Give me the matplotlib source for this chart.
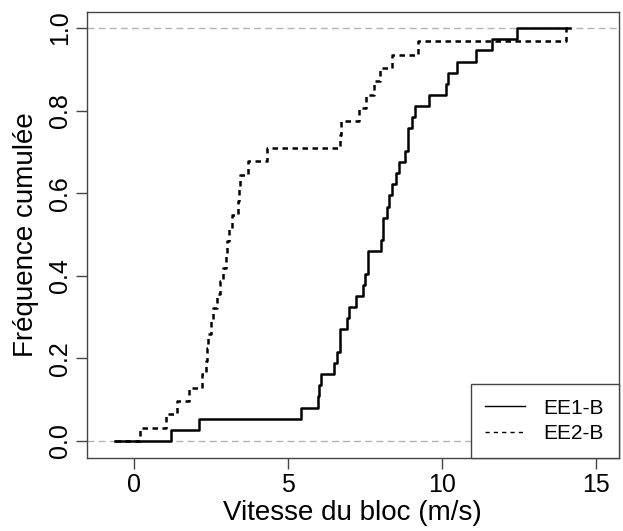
import matplotlib
matplotlib.use('Agg')
import matplotlib.pyplot as plt
import numpy as np

plt.rcParams['font.family'] = ['Liberation Sans', 'DejaVu Sans']

# vitesses (m/s)
ee1 = [1.19, 2.10, 5.40, 5.98, 6.00, 6.08, 6.49, 6.58, 6.67, 6.69,
       6.90, 6.98, 7.20, 7.42, 7.50, 7.58, 7.60, 8.01, 8.07, 8.09,
       8.19, 8.28, 8.38, 8.50, 8.58, 8.80, 8.88, 8.90, 9.01, 9.10,
       9.58, 10.11, 10.20, 10.49, 11.09, 11.60, 12.42]
ee2 = [0.19, 1.02, 1.40, 1.79, 2.19, 2.33, 2.38, 2.41, 2.48, 2.57,
       2.69, 2.78, 2.87, 2.97, 3.00, 3.08, 3.18, 3.38, 3.40, 3.42,
       3.70, 4.30, 6.68, 6.70, 7.29, 7.52, 7.79, 7.97, 8.38, 9.20,
       14.02]
x_start, x_end = -0.63, 14.15
labels = ['EE1-B', 'EE2-B']
xticks = [0, 5, 10, 15]
yticks = [0.0, 0.2, 0.4, 0.6, 0.8, 1.0]


def ecdf_xy(v):
    v = np.sort(np.asarray(v))
    n = len(v)
    x = np.concatenate([[x_start], v, [x_end]])
    y = np.concatenate([[0], np.arange(1, n + 1) / n, [1]])
    return x, y


fig = plt.figure(figsize=(6.23, 5.31), dpi=100)
ax = fig.add_axes([0.1397, 0.1384, 0.8531, 0.8399])

ax.axhline(0, color='#b3b3b3', lw=1, ls=(0, (5, 3)), zorder=1)
ax.axhline(1, color='#b3b3b3', lw=1, ls=(0, (5, 3)), zorder=1)

x1, y1 = ecdf_xy(ee1)
x2, y2 = ecdf_xy(ee2)
ax.step(x1, y1, where='post', color='black', lw=1.8, zorder=3)
ax.step(x2, y2, where='post', color='black', lw=1.8, ls=(0, (2.2, 1.8)), zorder=3)

xmin, xmax = -0.89, 15.08
pad = 0.04 * (xmax - xmin)
ax.set_xlim(xmin - pad, xmax + pad)
ax.set_ylim(-0.04, 1.04)
ax.set_xticks(xticks)
ax.set_yticks(yticks)
ax.set_yticklabels(['%.1f' % t for t in yticks], rotation=90, va='center')
ax.tick_params(direction='out', length=8, width=1, labelsize=18, pad=3,
               color='#444444')
for s in ax.spines.values():
    s.set_color('#444444')
    s.set_linewidth(1)

ax.set_xlabel('Vitesse du bloc (m/s)', fontsize=20, labelpad=2)
ax.set_ylabel('Fréquence cumulée', fontsize=20, labelpad=6)

h1, = ax.plot([], [], color='black', lw=1)
h2, = ax.plot([], [], color='black', lw=1, ls=(0, (3, 3)))
leg = ax.legend([h1, h2], labels, loc='lower right', fontsize=15,
                borderaxespad=0, fancybox=False, framealpha=1,
                edgecolor='#444444', handlelength=1.9, borderpad=0.7,
                labelspacing=0.3, handletextpad=0.9)
leg.get_frame().set_linewidth(1)

fig.savefig('out.png', dpi=100)
